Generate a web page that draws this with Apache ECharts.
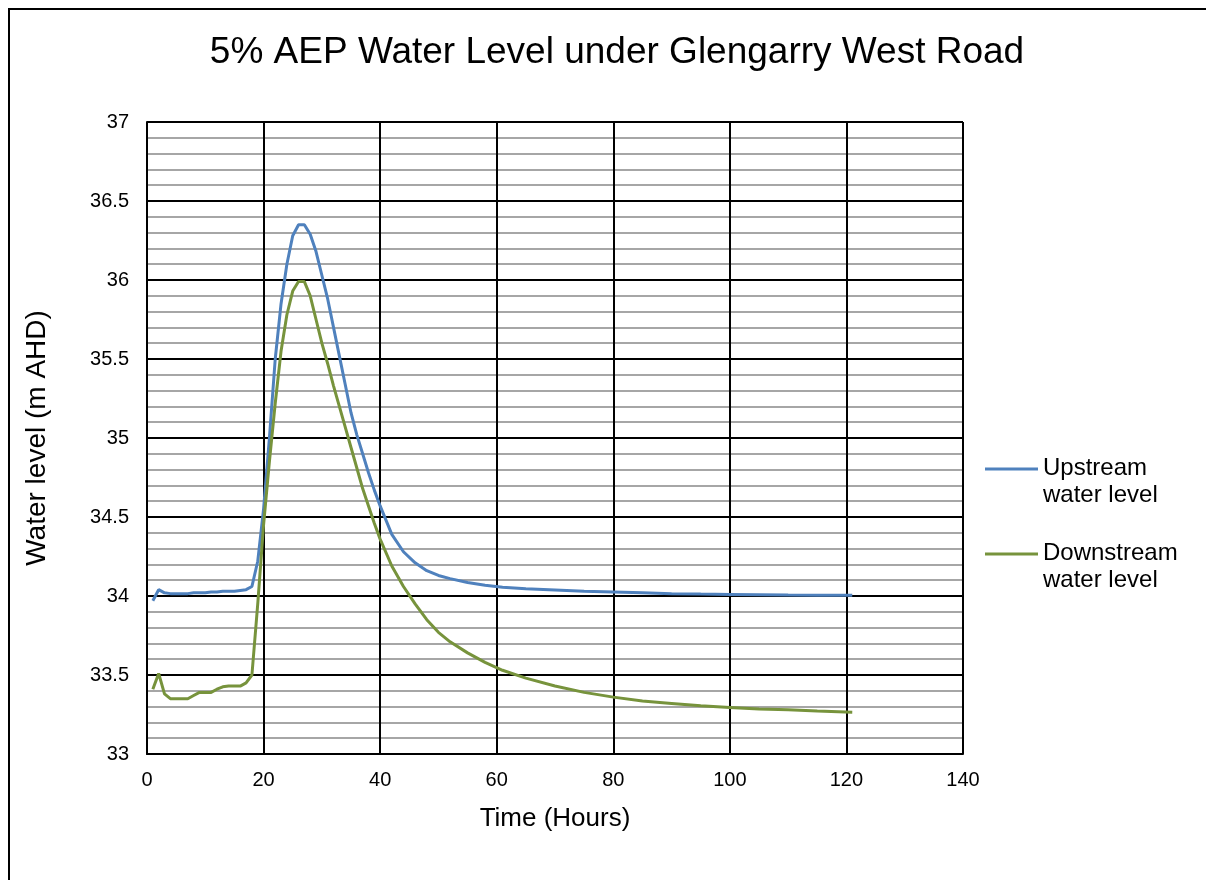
<!DOCTYPE html>
<html>
<head>
<meta charset="utf-8">
<script src="https://cdn.jsdelivr.net/npm/echarts@6/dist/echarts.min.js"></script>
<style>
  html, body { margin: 0; padding: 0; background: #fff; }
  #chart { width: 1206px; height: 880px; }
</style>
</head>
<body>
<div id="chart"></div>
<script>
// Time since start of event (hours)
const hours = [1,2,3,4,5,6,7,8,9,10,11,12,13,14,15,16,17,18,19,20,
  21,22,23,24,25,26,27,28,29,30,31,32,33,34,35,36,37,38,39,40,
  42,44,46,48,50,52,55,58,61,65,70,75,80,85,90,95,100,105,110,115,121];

// Water level upstream of the road crossing (m AHD)
const upstream = [33.97,34.04,34.02,34.015,34.015,34.015,34.015,34.02,34.02,34.02,
  34.025,34.025,34.03,34.03,34.03,34.035,34.04,34.06,34.22,34.55,
  35.0,35.5,35.85,36.1,36.28,36.35,36.35,36.29,36.18,36.03,
  35.88,35.7,35.52,35.34,35.16,35.02,34.9,34.78,34.67,34.57,
  34.39,34.28,34.21,34.16,34.13,34.11,34.085,34.068,34.056,34.046,
  34.038,34.03,34.025,34.02,34.015,34.012,34.01,34.008,34.006,34.005,34.004];

// Water level downstream of the road crossing (m AHD)
const downstream = [33.41,33.51,33.38,33.35,33.35,33.35,33.35,33.37,33.39,33.39,
  33.39,33.41,33.425,33.43,33.43,33.43,33.45,33.5,33.95,34.45,
  34.85,35.22,35.55,35.78,35.93,35.99,35.99,35.9,35.75,35.6,
  35.47,35.33,35.2,35.07,34.94,34.81,34.68,34.57,34.46,34.36,
  34.19,34.06,33.95,33.85,33.77,33.71,33.64,33.58,33.53,33.48,
  33.43,33.39,33.36,33.335,33.32,33.305,33.295,33.285,33.28,33.272,33.265];

const seriesNames = ['Upstream\nwater level', 'Downstream\nwater level'];

const pairs = (ys) => hours.map((h, i) => [h, ys[i]]);

const FONT = '"Liberation Sans", Arial, sans-serif';

const chart = echarts.init(document.getElementById('chart'), null, { renderer: 'canvas' });

chart.setOption({
  animation: false,
  backgroundColor: '#ffffff',
  textStyle: { fontFamily: FONT, color: '#000' },
  title: {
    text: '5% AEP Water Level under Glengarry West Road',
    left: 612,
    textAlign: 'center',
    top: 29,
    textStyle: { fontFamily: FONT, fontSize: 37, fontWeight: 'normal', color: '#000' }
  },
  graphic: [{
    type: 'rect',
    shape: { x: 9, y: 9, width: 1400, height: 1000 },
    style: { fill: 'none', stroke: '#000', lineWidth: 2 },
    silent: true,
    z: 100
  }],
  legend: {
    orient: 'vertical',
    left: 985,
    top: 455,
    padding: 0,
    itemGap: 31,
    itemWidth: 53,
    itemHeight: 29,
    symbolKeepAspect: false,
    data: seriesNames.map(n => ({ name: n, icon: 'path://M0,0H53V3H0Z M0,29H0.01' })),
    textStyle: { fontFamily: FONT, fontSize: 24, color: '#000', lineHeight: 27, padding: [0, 0, 0, 0] }
  },
  grid: { left: 147, top: 122, width: 816, height: 632, containLabel: false },
  xAxis: {
    type: 'value',
    min: 0, max: 140, interval: 20,
    name: 'Time (Hours)',
    nameLocation: 'middle',
    nameGap: 52,
    nameTextStyle: { fontFamily: FONT, fontSize: 26, color: '#000' },
    axisLine: { show: true, lineStyle: { color: '#000', width: 2 } },
    axisTick: { show: false },
    axisLabel: { fontFamily: FONT, fontSize: 20, color: '#000', margin: 16 },
    splitLine: { show: true, lineStyle: { color: '#000', width: 2 } }
  },
  yAxis: {
    type: 'value',
    min: 33, max: 37, interval: 0.5,
    name: 'Water level (m AHD)',
    nameLocation: 'middle',
    nameGap: 96,
    nameTextStyle: { fontFamily: FONT, fontSize: 28, color: '#000' },
    axisLine: { show: true, lineStyle: { color: '#000', width: 2 } },
    axisTick: { show: false },
    axisLabel: { fontFamily: FONT, fontSize: 20, color: '#000', margin: 18 },
    splitLine: { show: true, lineStyle: { color: '#000', width: 2 } },
    minorTick: { show: false, splitNumber: 5 },
    minorSplitLine: { show: true, lineStyle: { color: '#a6a6a6', width: 2 } }
  },
  series: [
    {
      name: seriesNames[0],
      type: 'line',
      data: pairs(upstream),
      showSymbol: false,
      symbol: 'none',
      lineStyle: { color: '#4f81bd', width: 3 },
      itemStyle: { color: '#4f81bd' },
      z: 3
    },
    {
      name: seriesNames[1],
      type: 'line',
      data: pairs(downstream),
      showSymbol: false,
      symbol: 'none',
      lineStyle: { color: '#77933c', width: 3 },
      itemStyle: { color: '#77933c' },
      z: 4
    }
  ]
});
</script>
</body>
</html>
